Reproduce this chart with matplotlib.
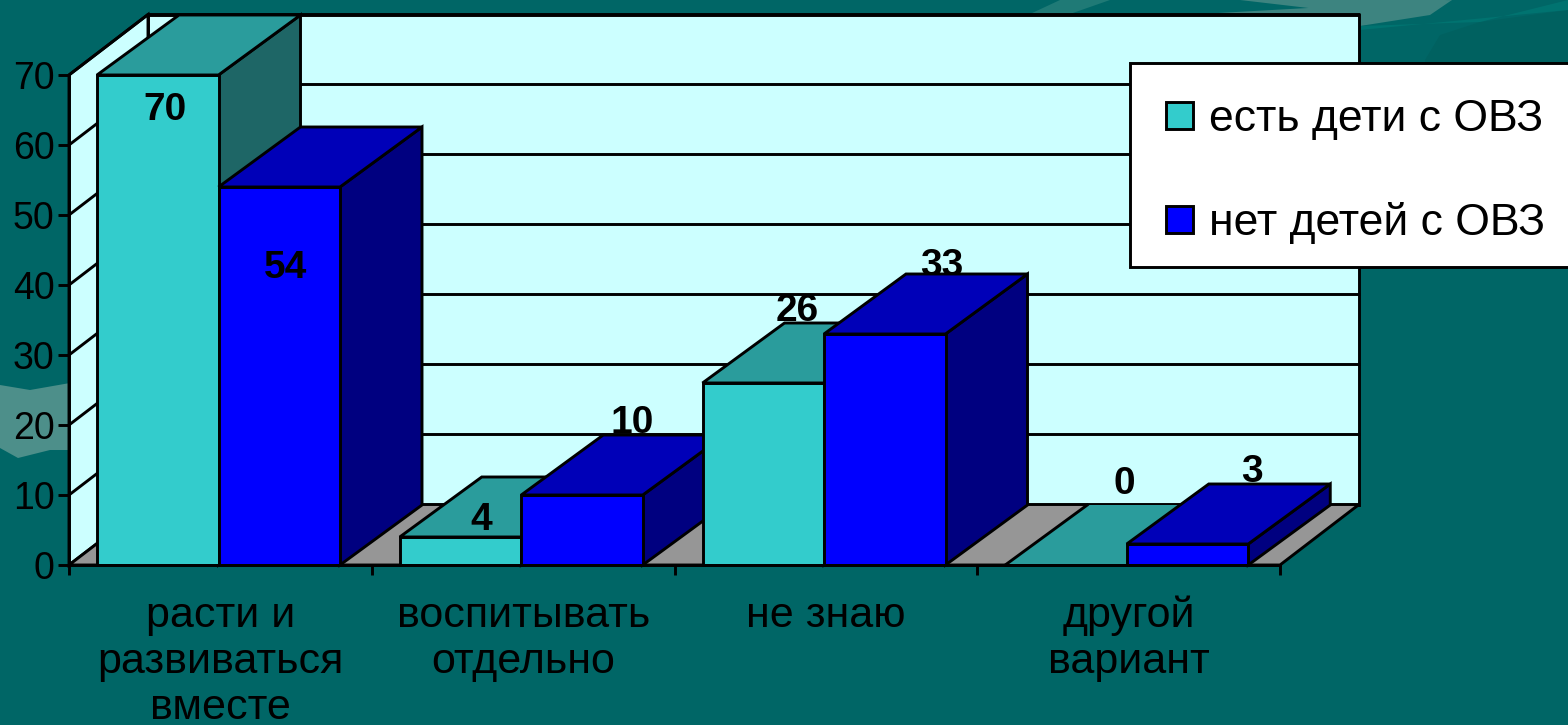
import matplotlib
matplotlib.use("Agg")
import matplotlib.pyplot as plt
from matplotlib.legend_handler import HandlerPatch
from matplotlib.patches import Patch, Polygon, Rectangle

# ---- data ----
categories = ["расти и\nразвиваться\nвместе", "воспитывать\nотдельно", "не знаю", "другой\nвариант"]
series_names = ["есть дети с ОВЗ", "нет детей с ОВЗ"]
with_ovz = [70, 4, 26, 0]
without_ovz = [54, 10, 33, 3]
yticks = [0, 10, 20, 30, 40, 50, 60, 70]

# ---- style ----
W, H = 1568, 725
X0, X1, Y0, Y70 = 69, 1280, 565, 75
BG = "#006666"
WALL = "#CCFFFF"
FLOOR = "#969696"
COL = [("#33CCCC", "#2A9C9C", "#1E6666"), ("#0000FF", "#0000B8", "#000080")]
PXX = (X1 - X0) / len(categories)
PXY = (Y0 - Y70) / 70
BAR_GAP, BAR_W = 28 / PXX, 121.5 / PXX
DX, DY = 82 / PXX, 60 / PXY            # bar depth
WDX, WDY = 79 / PXX, 60.5 / PXY        # wall depth
LW = 2.1
plt.rcParams["font.family"] = ["Liberation Sans", "DejaVu Sans"]

# label offset from front-top-centre of the bar, in pixels (right, down), and on/behind-bar flag
label_off = [[(7, 35), (21, -17), (34, -72), (58, -81)],
             [(6, 81), (50, -72), (57, -68), (64, -72)]]
label_front = [[True, True, False, True], [True, False, False, False]]

fig = plt.figure(figsize=(W / 100, H / 100), dpi=100, facecolor=BG)

# background swooshes
bg = fig.add_axes([0, 0, 1, 1], zorder=0)
bg.set_xlim(0, W); bg.set_ylim(H, 0); bg.axis("off")
bg.fill([0, 30, 70, 70, 50, 18, 0], [385, 390, 383, 450, 450, 458, 448], color="#4D8F8A", lw=0)
bg.fill([1200, 1452, 1430, 1360, 1360, 1240], [14, 0, 15, 26, 14, 14], color="#3D8480", lw=0)
bg.fill([1240, 1452, 1360], [0, 0, 14], color="#3D8480", lw=0)
bg.fill([1060, 1110, 1070, 1030], [0, 0, 14, 14], color="#1F7A76", lw=0)
bg.fill([1425, 1440, 1480, 1568, 1568, 1425], [60, 35, 22, 10, 63, 63], color="#006160", lw=0)
bg.fill([1360, 1480, 1568, 1568, 1360], [26, 22, 0, 10, 30], color="#007370", lw=0)

ax = fig.add_axes([X0 / W, 1 - Y0 / H, (X1 - X0) / W, (Y0 - Y70) / H], zorder=1)
ax.set_xlim(0, len(categories))
ax.set_ylim(0, 70)
ax.patch.set_visible(False)
for s in ("top", "right"):
    ax.spines[s].set_visible(False)
for s in ("left", "bottom"):
    ax.spines[s].set_linewidth(LW)
    ax.spines[s].set_zorder(6)
ax.set_yticks(yticks)
ax.set_xticks(range(len(categories) + 1))
ax.set_xticklabels([])
ax.set_xticks([i + 0.5 for i in range(len(categories))], minor=True)
ax.set_xticklabels(categories, minor=True, fontsize=31, linespacing=1.2, color="black")
ax.tick_params(axis="x", which="minor", length=0, pad=22)
ax.tick_params(axis="x", which="major", length=7.5, width=LW)
ax.tick_params(axis="y", length=8, width=LW, labelsize=27, pad=2.5, labelcolor="black")


def poly(xs, ys, fc, z, edge=True):
    ax.add_patch(Polygon(list(zip(xs, ys)), closed=True, facecolor=fc,
                         edgecolor="black" if edge else "none", lw=LW,
                         joinstyle="miter", clip_on=False, zorder=z))


n = len(categories)
# walls and floor
poly([WDX, n + WDX, n + WDX, WDX], [WDY, WDY, 70 + WDY, 70 + WDY], WALL, 1)
poly([0, WDX, WDX, 0], [0, WDY, 70 + WDY, 70], WALL, 1)
poly([0, n, n + WDX, WDX], [0, 0, WDY, WDY], FLOOR, 1)
for t in yticks[1:]:
    ax.plot([0, WDX, n + WDX], [t, t + WDY, t + WDY], color="black", lw=LW,
            clip_on=False, zorder=1.5, solid_joinstyle="miter")

# bars, painted from left to right so later bars overlap earlier ones
z = 3.0
for c in range(n):
    for s, vals in enumerate((with_ovz, without_ovz)):
        v = vals[c]
        x0 = c + BAR_GAP + s * BAR_W
        x1 = x0 + BAR_W
        front, top, side = COL[s]
        if v > 0:
            poly([x1, x1 + DX, x1 + DX, x1], [0, DY, v + DY, v], side, z)
            poly([x0, x1, x1, x0], [0, 0, v, v], front, z + 0.01)
        poly([x0, x1, x1 + DX, x0 + DX], [v, v, v + DY, v + DY], top, z + 0.02, edge=v > 0)
        if v == 0:
            ax.plot([x0, x0 + DX], [0, DY], color="black", lw=LW, zorder=z + 0.03, clip_on=False)
            ax.plot([x0, x1], [0, 0], color="black", lw=LW, zorder=z + 0.03, clip_on=False)
        ox, oy = label_off[s][c]
        ax.annotate(str(v), (x0 + BAR_W / 2, v), xytext=(ox * 0.72, -oy * 0.72),
                    textcoords="offset points", ha="center", va="center",
                    fontsize=28, fontweight="bold", color="black",
                    zorder=20 if label_front[s][c] else 2, annotation_clip=False)
        z += 0.1


def square_handle(legend, orig_handle, xdescent, ydescent, width, height, fontsize):
    side_pt = 19.4
    return Rectangle((width - xdescent - side_pt, (height - side_pt) / 2 - ydescent), side_pt, side_pt)


# legend box runs off the right edge of the picture
ax.add_patch(Rectangle((1130 / W, 1 - 267 / H), 460 / W, 204 / H, transform=fig.transFigure,
                       facecolor="white", edgecolor="black", lw=LW, clip_on=False, zorder=29))
handles = [Patch(facecolor=COL[i][0], edgecolor="black", lw=LW) for i in range(2)]
leg = ax.legend(handles, series_names, loc="upper left",
                bbox_to_anchor=(1130 / W, 1 - 70 / H), bbox_transform=fig.transFigure,
                borderaxespad=0, fontsize=32, frameon=False,
                borderpad=0.65, labelspacing=1.4, handlelength=0.76,
                handleheight=0.6, handletextpad=0.36,
                handler_map={Patch: HandlerPatch(patch_func=square_handle)})
leg.set_zorder(30)

fig.savefig("out.png", dpi=100, facecolor=BG)
